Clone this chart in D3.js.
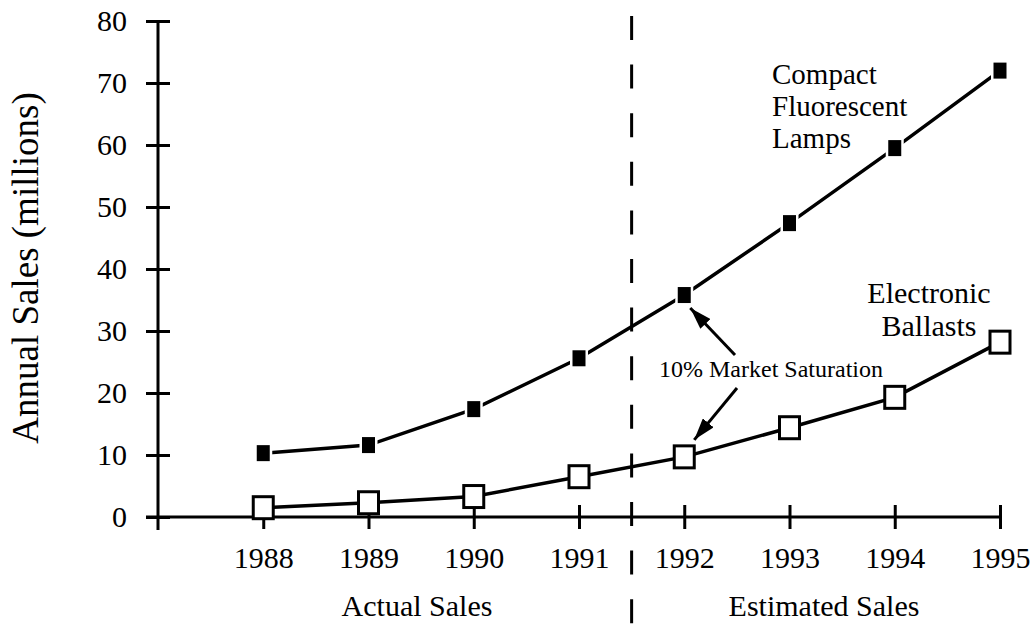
<!DOCTYPE html>
<html>
<head>
<meta charset="utf-8">
<script src="https://cdn.jsdelivr.net/npm/d3@7"></script>
<style>
  body { margin: 0; background: #fff; }
  text { font-family: "Liberation Serif", "Times New Roman", serif; fill: #000; }
</style>
</head>
<body>
<div id="chart"></div>
<script>
// data
var years = [1988, 1989, 1990, 1991, 1992, 1993, 1994, 1995];
var cflSales = [10.3, 11.6, 17.4, 25.6, 35.8, 47.4, 59.5, 72.0];
var ballastSales = [1.5, 2.3, 3.3, 6.5, 9.7, 14.4, 19.3, 28.2];
var yTicks = [0, 10, 20, 30, 40, 50, 60, 70, 80];
var splitYear = 1991.5;

var width = 1033, height = 627;
var svg = d3.select("#chart").append("svg").attr("width", width).attr("height", height);

var x = d3.scaleLinear().domain([1987, 1995]).range([158, 1000]);
var y = d3.scaleLinear().domain([0, 80]).range([517, 21]);

// y axis
var yAxis = svg.append("g").attr("transform", "translate(" + x(1987) + ",0)")
    .call(d3.axisLeft(y).tickValues(yTicks).tickSize(12).tickSizeOuter(0));
yAxis.select(".domain").remove();
yAxis.selectAll(".tick line").attr("x2", 12).attr("x1", -12).attr("stroke-width", 3);
yAxis.selectAll(".tick text").attr("font-size", 30).attr("x", -31);
svg.append("line").attr("x1", x(1987)).attr("x2", x(1987))
    .attr("y1", y(80)).attr("y2", y(0) + 13)
    .attr("stroke", "#000").attr("stroke-width", 3);

// x axis
var xAxis = svg.append("g").attr("transform", "translate(0," + y(0) + ")")
    .call(d3.axisBottom(x).tickValues(years).tickFormat(d3.format("d")).tickSize(12).tickPadding(18).tickSizeOuter(0));
xAxis.select(".domain").remove();
xAxis.selectAll(".tick line").attr("y1", -12).attr("stroke-width", 3);
xAxis.selectAll(".tick text").attr("font-size", 30);
svg.append("line").attr("x1", x(1987) - 12).attr("x2", x(1995))
    .attr("y1", y(0)).attr("y2", y(0))
    .attr("stroke", "#000").attr("stroke-width", 3);

// divider between actual and estimated
svg.append("line").attr("x1", x(splitYear)).attr("x2", x(splitYear))
    .attr("y1", 16).attr("y2", 627)
    .attr("stroke", "#000").attr("stroke-width", 3)
    .attr("stroke-dasharray", "24,24.6");

svg.append("text").attr("transform", "translate(38,268) rotate(-90)")
    .attr("text-anchor", "middle").attr("font-size", 37)
    .text("Annual Sales (millions)");

svg.append("text").attr("x", 417).attr("y", 616).attr("font-size", 30)
    .attr("text-anchor", "middle").text("Actual Sales");
svg.append("text").attr("x", 824).attr("y", 616).attr("font-size", 30)
    .attr("text-anchor", "middle").text("Estimated Sales");

var line = d3.line().x(function (d) { return x(d[0]); }).y(function (d) { return y(d[1]); });
var cfl = years.map(function (yr, i) { return [yr, cflSales[i]]; });
var eb = years.map(function (yr, i) { return [yr, ballastSales[i]]; });

svg.append("path").datum(cfl).attr("d", line)
    .attr("fill", "none").attr("stroke", "#000").attr("stroke-width", 3.5);
svg.append("path").datum(eb).attr("d", line)
    .attr("fill", "none").attr("stroke", "#000").attr("stroke-width", 3.5);

svg.selectAll(".cfl").data(cfl).enter().append("rect")
    .attr("x", function (d) { return x(d[0]) - 6.5; })
    .attr("y", function (d) { return y(d[1]) - 8; })
    .attr("width", 13).attr("height", 16)
    .attr("fill", "#000").attr("stroke", "#fff").attr("stroke-width", 5)
    .attr("paint-order", "stroke");

svg.selectAll(".eb").data(eb).enter().append("rect")
    .attr("x", function (d) { return x(d[0]) - 10; })
    .attr("y", function (d) { return y(d[1]) - 11; })
    .attr("width", 20).attr("height", 22)
    .attr("fill", "#fff").attr("stroke", "#000").attr("stroke-width", 3);

// series labels
["Compact", "Fluorescent", "Lamps"].forEach(function (t, i) {
    svg.append("text").attr("font-size", 29).attr("x", 772).attr("y", 84 + i * 32).text(t);
});
["Electronic", "Ballasts"].forEach(function (t, i) {
    svg.append("text").attr("font-size", 30).attr("text-anchor", "middle")
        .attr("x", 929).attr("y", 303 + i * 33).text(t);
});

// annotation
svg.append("defs").append("marker").attr("id", "arrow")
    .attr("viewBox", "0 0 22 14").attr("refX", 22).attr("refY", 7)
    .attr("markerUnits", "userSpaceOnUse")
    .attr("markerWidth", 22).attr("markerHeight", 14).attr("orient", "auto")
    .append("path").attr("d", "M0,0 L22,7 L0,14 z").attr("fill", "#000");

svg.append("text").attr("x", 771).attr("y", 377).attr("font-size", 24)
    .attr("text-anchor", "middle").text("10% Market Saturation");
svg.append("line").attr("x1", 735).attr("y1", 355).attr("x2", x(1992) + 6).attr("y2", y(cflSales[4]) + 13)
    .attr("stroke", "#000").attr("stroke-width", 3).attr("marker-end", "url(#arrow)");
svg.append("line").attr("x1", 737).attr("y1", 388).attr("x2", x(1992) + 10).attr("y2", y(ballastSales[4]) - 17)
    .attr("stroke", "#000").attr("stroke-width", 3).attr("marker-end", "url(#arrow)");
</script>
</body>
</html>
